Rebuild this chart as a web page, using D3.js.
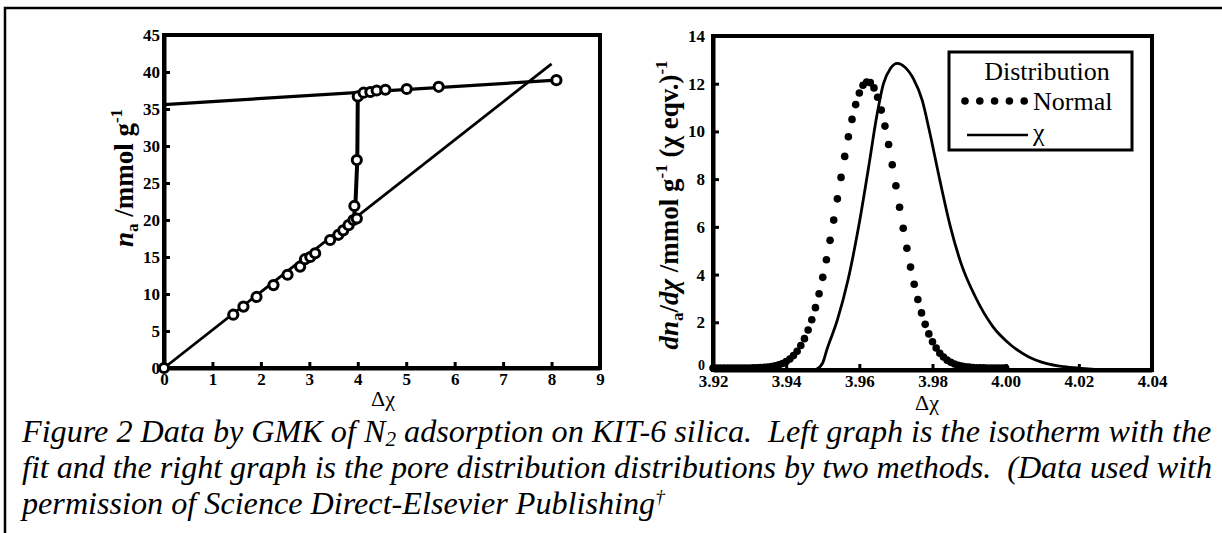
<!DOCTYPE html>
<html>
<head>
<meta charset="utf-8">
<script src="https://cdn.jsdelivr.net/npm/d3@7"></script>
<style>
  body { margin: 0; background: #fff; }
  svg text { white-space: pre; }
</style>
</head>
<body>
<div class="canvas"></div>
<script>
// left graph: isotherm points
var isoX = [0, 1.43, 1.64, 1.91, 2.26, 2.55, 2.81, 2.91, 3.02, 3.12, 3.43, 3.60, 3.70, 3.81, 3.91, 3.98, 3.93, 3.98, 4.00, 4.12, 4.26, 4.39, 4.57, 5.01, 5.67, 8.10],
    isoY = [0, 7.2, 8.3, 9.6, 11.2, 12.6, 13.7, 14.7, 15.0, 15.5, 17.3, 18.0, 18.6, 19.3, 20.0, 20.2, 21.9, 28.1, 36.7, 37.2, 37.3, 37.5, 37.6, 37.7, 38.0, 38.9];

// thick step of the isotherm
var stepX = [3.43, 3.70, 3.91, 3.95, 3.99, 4.00, 4.12, 4.57],
    stepY = [17.3, 18.6, 20.0, 21.9, 28.1, 36.7, 37.2, 37.6];

// the two straight fit lines
var lowX = [0, 8.0], lowY = [0, 41.1],
    upX = [0, 8.1], upY = [35.6, 38.9];

var leftXTicks = [0, 1, 2, 3, 4, 5, 6, 7, 8, 9],
    leftYTicks = [0, 5, 10, 15, 20, 25, 30, 35, 40, 45];

// right graph: normal distribution (dots)
var normX = [3.920, 3.921, 3.922, 3.923, 3.924, 3.925, 3.926, 3.927, 3.928, 3.929,
             3.930, 3.931, 3.932, 3.933, 3.934, 3.935, 3.936, 3.937, 3.938, 3.939,
             3.940, 3.941, 3.942, 3.943, 3.944, 3.945, 3.946, 3.947, 3.948, 3.949,
             3.950, 3.951, 3.952, 3.953, 3.954, 3.955, 3.956, 3.957, 3.958, 3.959,
             3.960, 3.961, 3.962, 3.963, 3.964, 3.965, 3.966, 3.967, 3.968, 3.969,
             3.970, 3.971, 3.972, 3.973, 3.974, 3.975, 3.976, 3.977, 3.978, 3.979,
             3.980, 3.981, 3.982, 3.983, 3.984, 3.985, 3.986, 3.987, 3.988, 3.989,
             3.990, 3.991, 3.992, 3.993, 3.994, 3.995, 3.996, 3.997, 3.998, 3.999, 4.000],
    normY = [0, 0, 0, 0, 0, 0, 0, 0, 0, 0,
             0, 0.01, 0.01, 0.02, 0.03, 0.04, 0.06, 0.09, 0.13, 0.19,
             0.27, 0.38, 0.52, 0.70, 0.94, 1.23, 1.59, 2.02, 2.53, 3.11,
             3.80, 4.54, 5.35, 6.20, 7.09, 7.99, 8.87, 9.69, 10.42, 11.04,
             11.53, 11.85, 11.99, 11.96, 11.74, 11.35, 10.81, 10.14, 9.37, 8.52,
             7.64, 6.74, 5.86, 5.02, 4.23, 3.51, 2.87, 2.31, 1.83, 1.43,
             1.10, 0.84, 0.62, 0.46, 0.33, 0.24, 0.17, 0.11, 0.08, 0.05,
             0.04, 0.02, 0.01, 0.01, 0.01, 0, 0, 0, 0, 0, 0];

// right graph: chi distribution (line)
var chiX = [3.9480, 3.9500, 3.9511, 3.9540, 3.9569, 3.9598, 3.9627, 3.9646, 3.9666, 3.9685,
            3.9704, 3.9724, 3.9748, 3.9772, 3.9791, 3.9820, 3.9849, 3.9878, 3.9917, 3.9965,
            4.0014, 4.0062, 4.0110, 4.0159, 4.0207, 4.0250],
    chiY = [0.0, 0.3, 0.84, 2.1, 3.77, 6.0, 8.66, 10.5, 12.0, 12.64,
            12.85, 12.7, 12.2, 11.3, 10.06, 7.96, 6.0, 4.47, 3.07, 1.82,
            1.05, 0.56, 0.28, 0.14, 0.07, 0.02];

var rightXTicks = [3.92, 3.94, 3.96, 3.98, 4.00, 4.02, 4.04],
    rightYTicks = [0, 2, 4, 6, 8, 10, 12, 14];

var legendTitle = 'Distribution',
    legendNames = ['Normal', 'χ'];

var captionLines = [
    ['Figure 2 Data by GMK of N', '2', ' adsorption on KIT-6 silica.  Left graph is the isotherm with the'],
    ['fit and the right graph is the pore distribution distributions by two methods.  (Data used with'],
    ['permission of Science Direct-Elsevier Publishing', '†']
];

var width = 1222, height = 533,
    serif = "'Liberation Serif'";

var svg = d3.select('.canvas').append('svg')
    .attr('width', width)
    .attr('height', height)
    .style('display', 'block');

// page frame (top and left only)
svg.append('path')
    .attr('d', 'M5,533 V8 H1222')
    .attr('fill', 'none')
    .attr('stroke', '#000')
    .attr('stroke-width', 2.5);

var xL = d3.scaleLinear().domain([0, 9]).range([164, 600]),
    yL = d3.scaleLinear().domain([0, 45]).range([368, 35]),
    xR = d3.scaleLinear().domain([3.92, 4.04]).range([713, 1152]),
    yR = d3.scaleLinear().domain([0, 14]).range([370, 36]);

function font(sel, size, weight, style) {
    return sel.style('font-family', serif)
        .style('font-size', size + 'px')
        .style('font-weight', weight || 'normal')
        .style('font-style', style || 'normal');
}

function drawAxes(x, y, xTicks, yTicks, xFmt, xPad, yPad) {
    var g = svg.append('g');
    g.append('rect')
        .attr('x', x.range()[0]).attr('y', y.range()[1])
        .attr('width', x.range()[1] - x.range()[0])
        .attr('height', y.range()[0] - y.range()[1])
        .attr('fill', 'none').attr('stroke', '#000').attr('stroke-width', 4);

    var ax = g.append('g')
        .attr('transform', 'translate(0,' + y.range()[0] + ')')
        .call(d3.axisBottom(x).tickValues(xTicks).tickFormat(xFmt)
            .tickSizeInner(-6).tickSizeOuter(0).tickPadding(xPad));
    var ay = g.append('g')
        .attr('transform', 'translate(' + x.range()[0] + ',0)')
        .call(d3.axisLeft(y).tickValues(yTicks)
            .tickSizeInner(-6).tickSizeOuter(0).tickPadding(yPad));

    [ax, ay].forEach(function (a) {
        a.attr('font-family', null);
        a.select('.domain').attr('stroke-width', 4);
        a.selectAll('.tick line').attr('stroke-width', 3);
        font(a.selectAll('.tick text'), 17, 'bold').attr('fill', '#000');
    });
    return ay;
}

drawAxes(xL, yL, leftXTicks, leftYTicks, d3.format('d'), 5, 4);
var ayR = drawAxes(xR, yR, rightXTicks, rightYTicks, d3.format('.2f'), 5, 8);
// the zero of the right y axis sits tucked above 3.92, smaller
ayR.selectAll('.tick text').filter(function (d) { return d === 0; })
    .style('font-size', '14px').attr('dy', '-0.05em');

// ---- left graph marks
var line = d3.line();

svg.append('path')
    .attr('d', line(lowX.map(function (v, i) { return [xL(v), yL(lowY[i])]; })))
    .attr('fill', 'none').attr('stroke', '#000').attr('stroke-width', 2.8);

svg.append('path')
    .attr('d', line(upX.map(function (v, i) { return [xL(v), yL(upY[i])]; })))
    .attr('fill', 'none').attr('stroke', '#000').attr('stroke-width', 3.2);

svg.append('path')
    .attr('d', line(stepX.map(function (v, i) { return [xL(v), yL(stepY[i])]; })))
    .attr('fill', 'none').attr('stroke', '#000').attr('stroke-width', 4)
    .attr('stroke-linejoin', 'round');

svg.append('g').selectAll('circle')
    .data(isoX.map(function (v, i) { return { x: v, y: isoY[i] }; }))
    .enter()
    .append('circle')
    .attr('cx', function (d) { return xL(d.x); })
    .attr('cy', function (d) { return yL(d.y); })
    .attr('r', 4.6)
    .attr('fill', '#fff')
    .attr('stroke', '#000')
    .attr('stroke-width', 3);

// ---- right graph marks
svg.append('g').selectAll('circle')
    .data(normX.map(function (v, i) { return { x: v, y: normY[i] }; }))
    .enter()
    .append('circle')
    .attr('cx', function (d) { return xR(d.x); })
    .attr('cy', function (d) { return yR(d.y) - 2; })
    .attr('r', 3.8)
    .attr('fill', '#000');

svg.append('path')
    .attr('d', d3.line().curve(d3.curveMonotoneX)(chiX.map(function (v, i) { return [xR(v), yR(chiY[i])]; })))
    .attr('fill', 'none').attr('stroke', '#000').attr('stroke-width', 2.8);

// ---- axis titles
function delta(x, y) {
    font(svg.append('text'), 22)
        .attr('x', x).attr('y', y)
        .attr('text-anchor', 'middle')
        .text('Δχ');
}
delta(383, 406);
delta(927, 410);

var tL = font(svg.append('text'), 27, 'bold')
    .attr('transform', 'translate(133,178) rotate(-90)')
    .attr('text-anchor', 'middle');
tL.append('tspan').style('font-style', 'italic').text('n');
tL.append('tspan').style('font-size', '17px').attr('dy', 5).text('a');
tL.append('tspan').attr('dy', -5).text(' /mmol g');
tL.append('tspan').style('font-size', '17px').attr('dy', -11).text('-1');

var tR = font(svg.append('text'), 27, 'bold')
    .attr('transform', 'translate(678,205) rotate(-90)')
    .attr('text-anchor', 'middle');
tR.append('tspan').style('font-style', 'italic').text('dn');
tR.append('tspan').style('font-size', '17px').attr('dy', 5).text('a');
tR.append('tspan').attr('dy', -5).text('/');
tR.append('tspan').style('font-style', 'italic').text('dχ');
tR.append('tspan').text(' /mmol g');
tR.append('tspan').style('font-size', '17px').attr('dy', -11).text('-1');
tR.append('tspan').attr('dy', 11).text(' (χ eqv.)');
tR.append('tspan').style('font-size', '17px').attr('dy', -11).text('-1');

// ---- legend
var lg = svg.append('g');
lg.append('rect')
    .attr('x', 949).attr('y', 52).attr('width', 183).attr('height', 98)
    .attr('fill', '#fff').attr('stroke', '#000').attr('stroke-width', 3);
font(lg.append('text'), 26)
    .attr('x', 1047).attr('y', 80)
    .attr('text-anchor', 'middle')
    .text(legendTitle);
lg.selectAll('circle')
    .data([0, 1, 2, 3, 4])
    .enter()
    .append('circle')
    .attr('cx', function (d) { return 965 + d * 14.8; })
    .attr('cy', 101)
    .attr('r', 3.8)
    .attr('fill', '#000');
lg.append('line')
    .attr('x1', 967).attr('x2', 1028).attr('y1', 135).attr('y2', 135)
    .attr('stroke', '#000').attr('stroke-width', 2.6);
font(lg.selectAll('text.name')
    .data(legendNames)
    .enter()
    .append('text')
    .attr('class', 'name'), 26)
    .attr('x', 1033)
    .attr('y', function (d, i) { return 110 + i * 31; })
    .text(function (d) { return d; });

// ---- caption
var capSize = 30;
var capTexts = captionLines.map(function (parts, i) {
    var t = font(svg.append('text'), capSize, 'normal', 'italic')
        .attr('x', 22).attr('y', 442 + i * 36);
    parts.forEach(function (p, j) {
        var s = t.append('tspan').text(p);
        if (i === 0 && j === 1) s.style('font-size', '0.66em').attr('dy', 4);
        if (i === 0 && j === 2) s.attr('dy', -4);
        if (i === 2 && j === 1) s.style('font-size', '0.6em').attr('dy', -11);
    });
    return t;
});
// size the caption so that the first line fills the width, justify line 2
var w0 = capTexts[0].node().getComputedTextLength();
capSize = capSize * 1190 / w0;
capTexts.forEach(function (t) { t.style('font-size', capSize + 'px'); });
capTexts[1].attr('textLength', 1190).attr('lengthAdjust', 'spacing');
</script>
</body>
</html>
